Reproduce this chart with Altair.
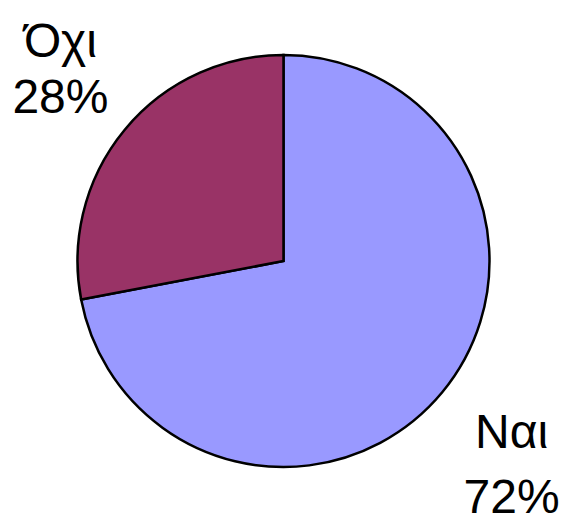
import altair as alt
import pandas as pd

categories = ["Ναι", "Όχι"]
values = [72, 28]
labels = ["Ναι\n72%", "Όχι\n28%"]
colors = ["#9999FF", "#993366"]

df = pd.DataFrame({"cat": categories, "value": values, "label": labels, "ord": [0, 1]})

theta_scale = alt.Scale(domain=[0, 100])

arcs = alt.Chart(df).mark_arc(outerRadius=206, stroke="black", strokeWidth=2.5).encode(
    theta=alt.Theta("value:Q", stack=True, scale=theta_scale),
    order=alt.Order("ord:Q"),
    color=alt.Color("cat:N", scale=alt.Scale(domain=categories, range=colors), legend=None),
)

lab_base = alt.Chart(df).transform_window(
    cum="sum(value)", sort=[alt.SortField("ord")], frame=[None, 0]
).transform_calculate(mid="datum.cum - datum.value / 2")


def label_layer(cat, dx, dy, lh):
    return lab_base.transform_filter(alt.datum.cat == cat).mark_text(
        radius=296, font="Liberation Sans", fontSize=48, lineBreak="\n",
        lineHeight=lh, color="black", align="center", baseline="alphabetic",
        dx=dx, dy=dy,
    ).encode(theta=alt.Theta("mid:Q", scale=theta_scale), text="label:N")


text_no = label_layer("Όχι", 5, -15, 56)
text_yes = label_layer("Ναι", 0, -2, 65)

chart = (arcs + text_no + text_yes).properties(
    width=551, height=506, padding=0, autosize=alt.AutoSizeParams(type="none")
).configure_view(stroke=None)

chart.save("out.html", embed_options={"renderer": "svg", "actions": False})
